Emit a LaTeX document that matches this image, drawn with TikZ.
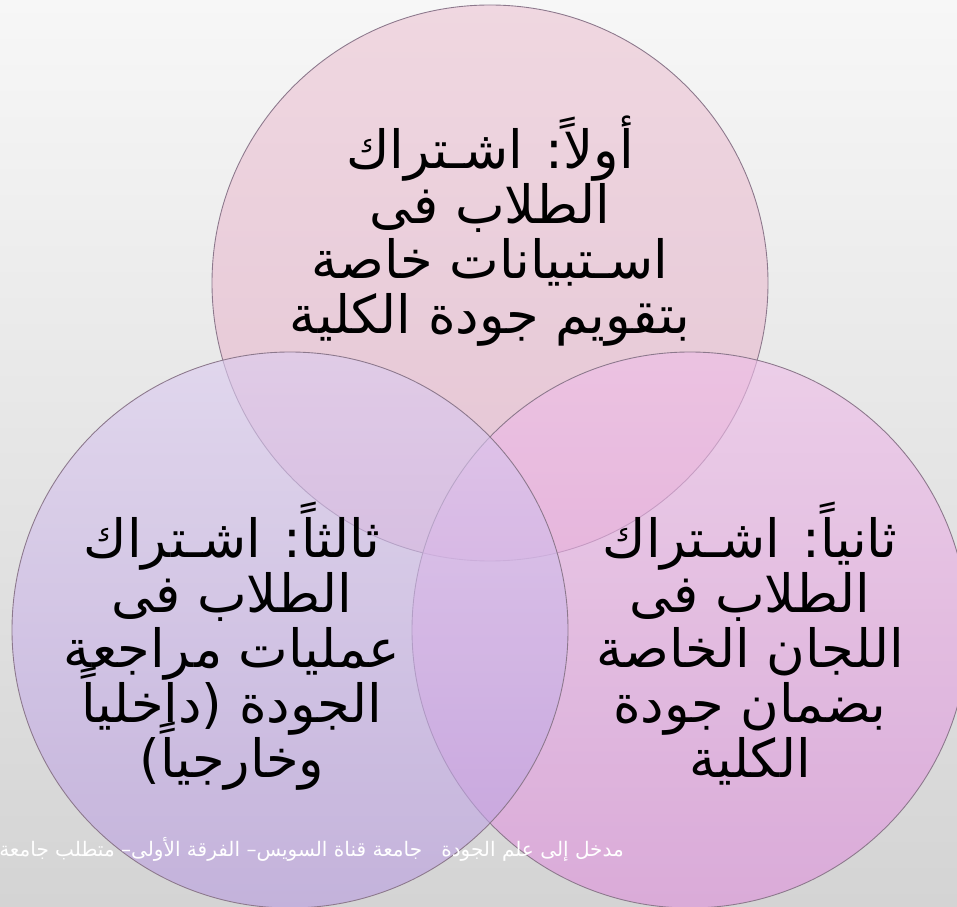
\documentclass[tikz,border=0pt]{standalone}
\usepackage{fontspec}
\usepackage{tikz}
\setmainfont{DejaVu Sans}
\newfontfamily\arabicfont[Script=Arabic]{DejaVu Sans}
\TeXXeTstate=1
\newcommand\tightlines{\lineskiplimit=-100pt\relax\lineskip=0pt\relax}

\definecolor{bgtop}{RGB}{247,247,247}
\definecolor{bgbottom}{RGB}{212,212,212}
\definecolor{ringline}{RGB}{140,120,140}
\definecolor{topfill}{RGB}{236,196,212}
\definecolor{topfilllow}{RGB}{230,180,204}
\definecolor{leftfill}{RGB}{220,204,240}
\definecolor{leftfilllow}{RGB}{186,158,224}
\definecolor{rightfill}{RGB}{238,190,232}
\definecolor{rightfilllow}{RGB}{222,146,220}

\begin{document}
\begin{tikzpicture}[
        ring/.style={draw=ringline, line width=0.5pt, fill opacity=0.62},
        bubbletext/.style={align=center, text=black, font=\arabicfont\fontsize{30}{31.3}\selectfont\tightlines},
        footertext/.style={text=white, font=\arabicfont\fontsize{11.4}{14}\selectfont}
    ]
                \useasboundingbox (0,0) rectangle (19.14,18.12);
                \clip (0,0) rectangle (19.14,18.12);
                \shade[top color=bgtop, bottom color=bgbottom] (0,0) rectangle (19.14,18.12);

                \coordinate (cTop) at (9.8,12.46);
                \coordinate (cLeft) at (5.8,5.52);
                \coordinate (cRight) at (13.8,5.52);

                \shadedraw[ring, top color=topfill, bottom color=topfilllow] (cTop) circle (5.56);
                \shadedraw[ring, top color=rightfill, bottom color=rightfilllow] (cRight) circle (5.56);
                \shadedraw[ring, top color=leftfill, bottom color=leftfilllow] (cLeft) circle (5.56);

                \node[bubbletext] (first) at (9.8,13.5) {\beginR أولاً: اشـتراك\endR\\\beginR الطلاب فى\endR\\\beginR اسـتبيانات خاصة\endR\\\beginR بتقويم جودة الكلية\endR};
                \node[bubbletext] (second) at (15.0,5.25) {\beginR ثانياً: اشـتراك\endR\\\beginR الطلاب فى\endR\\\beginR اللجان الخاصة\endR\\\beginR بضمان جودة\endR\\\beginR الكلية\endR};
                \node[bubbletext] (third) at (4.64,5.2) {\beginR ثالثاً: اشـتراك\endR\\\beginR الطلاب فى\endR\\\beginR عمليات مراجعة\endR\\\beginR الجودة (داخلياً\endR\\\beginR وخارجياً)\endR};

                \node[footertext, anchor=east] (footer) at (12.6,1.13) {\beginR مدخل إلى علم الجودة \ \ جامعة قناة السويس– الفرقة الأولى– متطلب جامعة\endR};
\end{tikzpicture}
\end{document}
